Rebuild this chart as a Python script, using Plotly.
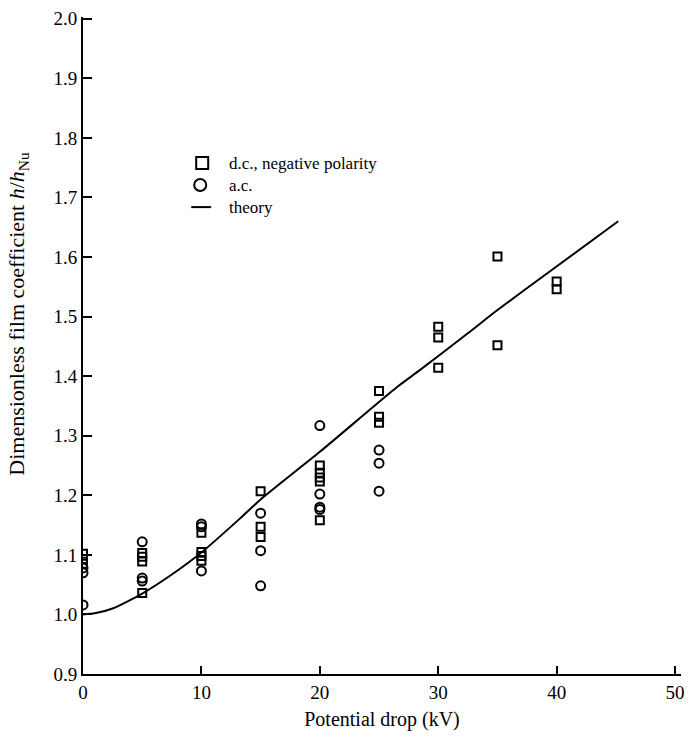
import plotly.graph_objects as go

# d.c., negative polarity (squares)
dc_x = [0, 0, 0, 5, 5, 5, 5, 10, 10, 10, 10, 15, 15, 15, 20, 20, 20, 20, 20,
        25, 25, 25, 30, 30, 30, 35, 35, 40, 40]
dc_y = [1.102, 1.093, 1.085, 1.103, 1.097, 1.089, 1.036, 1.137, 1.105, 1.098, 1.090,
        1.207, 1.147, 1.130, 1.250, 1.238, 1.230, 1.223, 1.158,
        1.375, 1.332, 1.322, 1.483, 1.465, 1.414, 1.601, 1.452, 1.559, 1.546]

# a.c. (circles)
ac_x = [0, 0, 0, 5, 5, 5, 10, 10, 10, 15, 15, 15, 20, 20, 20, 20, 25, 25, 25]
ac_y = [1.078, 1.070, 1.016, 1.122, 1.061, 1.056, 1.152, 1.147, 1.073,
        1.170, 1.107, 1.048, 1.317, 1.202, 1.180, 1.176, 1.276, 1.254, 1.207]

# theory curve
th_x = [0, 1, 2.5, 5, 7.5, 10, 13.2, 15, 20, 26.6, 28.3, 32.5, 35, 39.5, 45.2]
th_y = [1.0, 1.002, 1.01, 1.035, 1.067, 1.104, 1.16, 1.193, 1.273, 1.383, 1.408,
        1.472, 1.511, 1.577, 1.66]

x_ticks = [0, 10, 20, 30, 40, 50]
y_ticks = [0.9, 1.0, 1.1, 1.2, 1.3, 1.4, 1.5, 1.6, 1.7, 1.8, 1.9, 2.0]

legend_labels = ["d.c., negative polarity", "a.c.", "theory"]

FONT = "Liberation Serif, Times New Roman, serif"
BLACK = "#000000"

fig = go.Figure()
fig.add_trace(go.Scatter(
    x=dc_x, y=dc_y, mode="markers", name=legend_labels[0],
    marker=dict(symbol="square-open", size=8, color=BLACK, line=dict(width=2, color=BLACK)),
))
fig.add_trace(go.Scatter(
    x=ac_x, y=ac_y, mode="markers", name=legend_labels[1],
    marker=dict(symbol="circle-open", size=9, color=BLACK, line=dict(width=2, color=BLACK)),
))
fig.add_trace(go.Scatter(
    x=th_x, y=th_y, mode="lines", name=legend_labels[2],
    line=dict(color=BLACK, width=2, shape="spline", smoothing=0.6),
))

# manual legend: keys as shapes, labels as one multi-line annotation
# plot area: 83..685 px wide (602), 17..674 px tall (657)
leg_center = (674 - 185) / 657
row_px = 22.1 / 657
leg_rows = [leg_center + row_px, leg_center, leg_center - row_px]
shapes = [
    dict(type="rect", xref="paper", yref="paper", xsizemode="pixel", ysizemode="pixel",
         xanchor=0.1993, yanchor=leg_rows[0], x0=-6, x1=6, y0=-6, y1=6,
         line=dict(color=BLACK, width=2)),
    dict(type="circle", xref="paper", yref="paper", xsizemode="pixel", ysizemode="pixel",
         xanchor=0.196, yanchor=leg_rows[1], x0=-6, x1=6, y0=-6, y1=6,
         line=dict(color=BLACK, width=2)),
    dict(type="line", xref="paper", yref="paper", x0=0.181, x1=0.2143,
         y0=leg_rows[2], y1=leg_rows[2], line=dict(color=BLACK, width=2)),
]
annotations = [dict(
    text="<br>".join(legend_labels), xref="paper", yref="paper", x=0.241, y=leg_center,
    xanchor="left", yanchor="middle", align="left", showarrow=False,
    font=dict(size=17, family=FONT, color=BLACK))]
annotations.append(dict(
    text="Dimensionless film coefficient <i>h</i>/<i>h</i><sub>Nu</sub>",
    xref="paper", yref="paper", x=-0.108, y=0.549, xanchor="center", yanchor="middle",
    textangle=-90, showarrow=False, font=dict(size=22, family=FONT, color=BLACK)))

fig.update_layout(
    width=690, height=741,
    margin=dict(l=83, r=5, t=17, b=67),
    paper_bgcolor="white", plot_bgcolor="white",
    font=dict(family=FONT, size=19, color=BLACK),
    showlegend=False,
    shapes=shapes,
    annotations=annotations,
    xaxis=dict(
        range=[0, 50.5], tickvals=x_ticks, ticktext=[str(v) for v in x_ticks],
        showgrid=False, zeroline=False, showline=True, linecolor=BLACK, linewidth=2,
        ticks="inside", ticklen=8, tickwidth=2, tickcolor=BLACK,
        title=dict(text="Potential drop (kV)", font=dict(size=20), standoff=10),
        tickfont=dict(size=19),
    ),
    yaxis=dict(
        range=[0.9, 2.003], tickvals=y_ticks, ticktext=[f"{v:.1f}" for v in y_ticks],
        showgrid=False, zeroline=False, showline=True, linecolor=BLACK, linewidth=2,
        ticks="inside", ticklen=9, tickwidth=2, tickcolor=BLACK,
        tickfont=dict(size=19),
    ),
)

fig.write_html("out.html")
